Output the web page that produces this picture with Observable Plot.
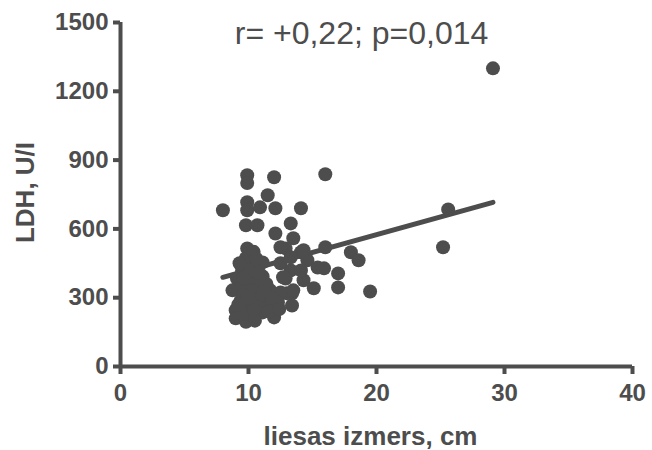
<!DOCTYPE html>
<html>
<head>
<meta charset="utf-8">
<script src="https://cdn.jsdelivr.net/npm/d3@7"></script>
<script src="https://cdn.jsdelivr.net/npm/@observablehq/plot@0.6"></script>
<style>
  html, body { margin: 0; padding: 0; background: #fff; }
  #chart svg { font-family: "Liberation Sans", Arial, sans-serif; }
  #chart svg [aria-label$="tick label"] text { font-weight: bold; }
</style>
</head>
<body>
<div id="chart"></div>
<script>
// spleen size (cm) and LDH (U/l)
const sizeCm = [
  29.1, 25.6, 25.2, 16.0, 8.0, 9.9, 9.9, 12.0, 9.9, 11.5, 9.9, 10.9, 12.1, 14.1,
  9.8, 10.7, 12.1, 13.3, 13.5, 12.9, 14.1, 16.0, 18.0, 18.6, 14.6, 15.9, 17.0, 17.0,
  19.5, 15.1, 14.3, 13.3, 12.9, 13.4, 13.4, 12.5, 14.3, 15.4, 14.1, 13.0, 12.7, 13.3,
  12.5, 13.5,
  9.9, 9.8, 10.2, 9.5, 10.5, 11.1, 9.1, 10.2, 11.1, 8.75, 9.8, 10.8, 11.7, 12.5,
  9.4, 10.3, 11.3, 12.3, 9.0, 10.0, 11.1, 12.0, 9.0, 9.8, 12.0, 10.5, 10.0, 10.6,
  11.4, 9.6, 11.6, 10.4,
  9.5, 10.4, 11.0, 11.8, 9.6, 10.8, 11.6, 9.5, 10.4, 10.9, 10.0, 10.8, 9.3, 10.6,
  9.6, 10.0, 11.2, 12.4, 9.2
];
const ldh = [
  1300, 685, 520, 838, 681, 834, 800, 825, 716, 747, 681, 694, 690, 690,
  616, 616, 580, 624, 559, 515, 498, 520, 498, 463, 463, 428, 406, 345,
  327, 341, 376, 419, 384, 319, 266, 450, 507, 432, 419, 319, 389, 476,
  520, 332,
  515, 472, 454, 419, 428, 454, 384, 384, 393, 332, 332, 341, 332, 323,
  288, 279, 288, 279, 245, 236, 236, 236, 210, 195, 214, 200, 360, 310,
  360, 260, 262, 500,
  350, 330, 310, 300, 310, 260, 240, 230, 250, 380, 420, 410, 450, 470,
  385, 300, 330, 250, 270
];
// regression line end points
const fitX = [8.0, 29.1];
const fitY = [389, 716];

const xTicks = [0, 10, 20, 30, 40];
const yTicks = [0, 300, 600, 900, 1200, 1500];
const statsText = "r= +0,22; p=0,014";
const xTitle = "liesas izmers, cm";
const yTitle = "LDH, U/I";

const points = sizeCm.map((x, i) => ({x, y: ldh[i]}));
const fit = fitX.map((x, i) => ({x, y: fitY[i]}));
const ink = "#4d4d4d";

const chart = Plot.plot({
  width: 652,
  height: 450,
  marginLeft: 120,
  marginRight: 20,
  marginTop: 22,
  marginBottom: 84,
  x: {domain: [0, 40]},
  y: {domain: [0, 1500]},
  marks: [
    Plot.line(fit, {x: "x", y: "y", stroke: ink, strokeWidth: 5}),
    Plot.dot(points, {x: "x", y: "y", r: 7, fill: ink, stroke: "none"}),
    Plot.ruleX([0], {stroke: ink, strokeWidth: 4}),
    Plot.ruleY([0], {stroke: ink, strokeWidth: 4}),
    Plot.axisX({ticks: xTicks, tickFormat: d => String(d), tickSize: 8, strokeWidth: 4, stroke: ink,
      tickPadding: 9, fontSize: 24, fill: ink, label: null}),
    Plot.axisY({ticks: yTicks, tickFormat: d => String(d), tickSize: 7, strokeWidth: 4, stroke: ink,
      tickPadding: 5, fontSize: 24, fill: ink, label: null}),
    Plot.text([statsText], {frameAnchor: "top", lineAnchor: "middle", textAnchor: "middle",
      dx: -15, dy: 11, fontSize: 32, fill: ink}),
    Plot.text([xTitle], {frameAnchor: "bottom", lineAnchor: "middle", textAnchor: "middle",
      dy: 70, dx: -6, fontSize: 26, fontWeight: "bold", fill: ink}),
    Plot.text([yTitle], {frameAnchor: "left", lineAnchor: "middle", textAnchor: "middle",
      dx: -95, dy: -2, rotate: -90, fontSize: 26, fontWeight: "bold", fill: ink})
  ]
});
document.getElementById("chart").appendChild(chart);
</script>
</body>
</html>
